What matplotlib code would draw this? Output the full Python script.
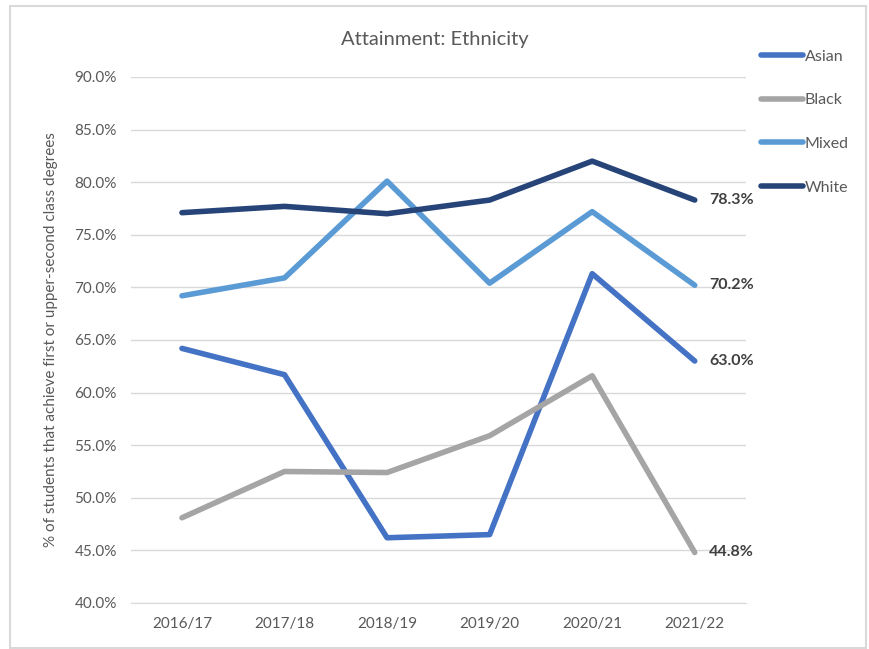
import matplotlib.pyplot as plt
from matplotlib.patches import Rectangle
from matplotlib.ticker import FuncFormatter

plt.rcParams["font.family"] = ["Lato", "DejaVu Sans"]

years = ["2016/17", "2017/18", "2018/19", "2019/20", "2020/21", "2021/22"]
asian = [64.2, 61.7, 46.2, 46.5, 71.3, 63.0]
black = [48.1, 52.5, 52.4, 55.9, 61.6, 44.8]
mixed = [69.2, 70.9, 80.1, 70.4, 77.2, 70.2]
white = [77.1, 77.7, 77.0, 78.3, 82.0, 78.3]

series = [
    ("Asian", asian, "#4472C4"),
    ("Black", black, "#A5A5A5"),
    ("Mixed", mixed, "#5B9BD5"),
    ("White", white, "#264478"),
]

fig = plt.figure(figsize=(8.7, 6.49), dpi=100)
ax = fig.add_axes([0.1502, 0.0709, 0.7073, 0.8105])

x = list(range(len(years)))
for name, vals, color in series:
    ax.plot(x, vals, color=color, lw=4, label=name,
            solid_capstyle="round", solid_joinstyle="round")
    # end-of-line value label
    ax.text(x[-1] + 0.14, vals[-1], f"{vals[-1]:.1f}%", fontsize=11.5,
            fontweight="bold", color="#404040", va="center", ha="left",
            clip_on=False)

ax.set_xlim(-0.5, len(years) - 0.5)
ax.set_ylim(40, 90)
ax.set_yticks(range(40, 91, 5))
ax.yaxis.set_major_formatter(FuncFormatter(lambda v, _: f"{v:.1f}%"))
ax.set_xticks(x)
ax.set_xticklabels(years)
ax.tick_params(length=0, labelsize=11, colors="#595959", pad=10)
ax.grid(axis="y", color="#D9D9D9", lw=1)
ax.set_axisbelow(True)
for side in ("top", "right", "left"):
    ax.spines[side].set_visible(False)
ax.spines["bottom"].set_color("#D9D9D9")

ax.set_ylabel("% of students that achieve first or upper-second class degrees",
              fontsize=11, color="#595959", labelpad=12)
fig.text(0.5, 1 - 40 / 649, "Attainment: Ethnicity", fontsize=14.5,
         color="#595959", ha="center", va="center")

fig.legend(loc="upper left", bbox_to_anchor=(747 / 870, 1 - 35 / 649),
           frameon=False, fontsize=11.5, labelspacing=1.85, handlelength=2.6,
           handletextpad=0.1, labelcolor="#595959")

fig.patches.append(Rectangle((10 / 870, 1 / 649), 856 / 870, 642 / 649,
                             transform=fig.transFigure, fill=False,
                             edgecolor="#D9D9D9", lw=1.5))

fig.savefig("out.png", dpi=100)
